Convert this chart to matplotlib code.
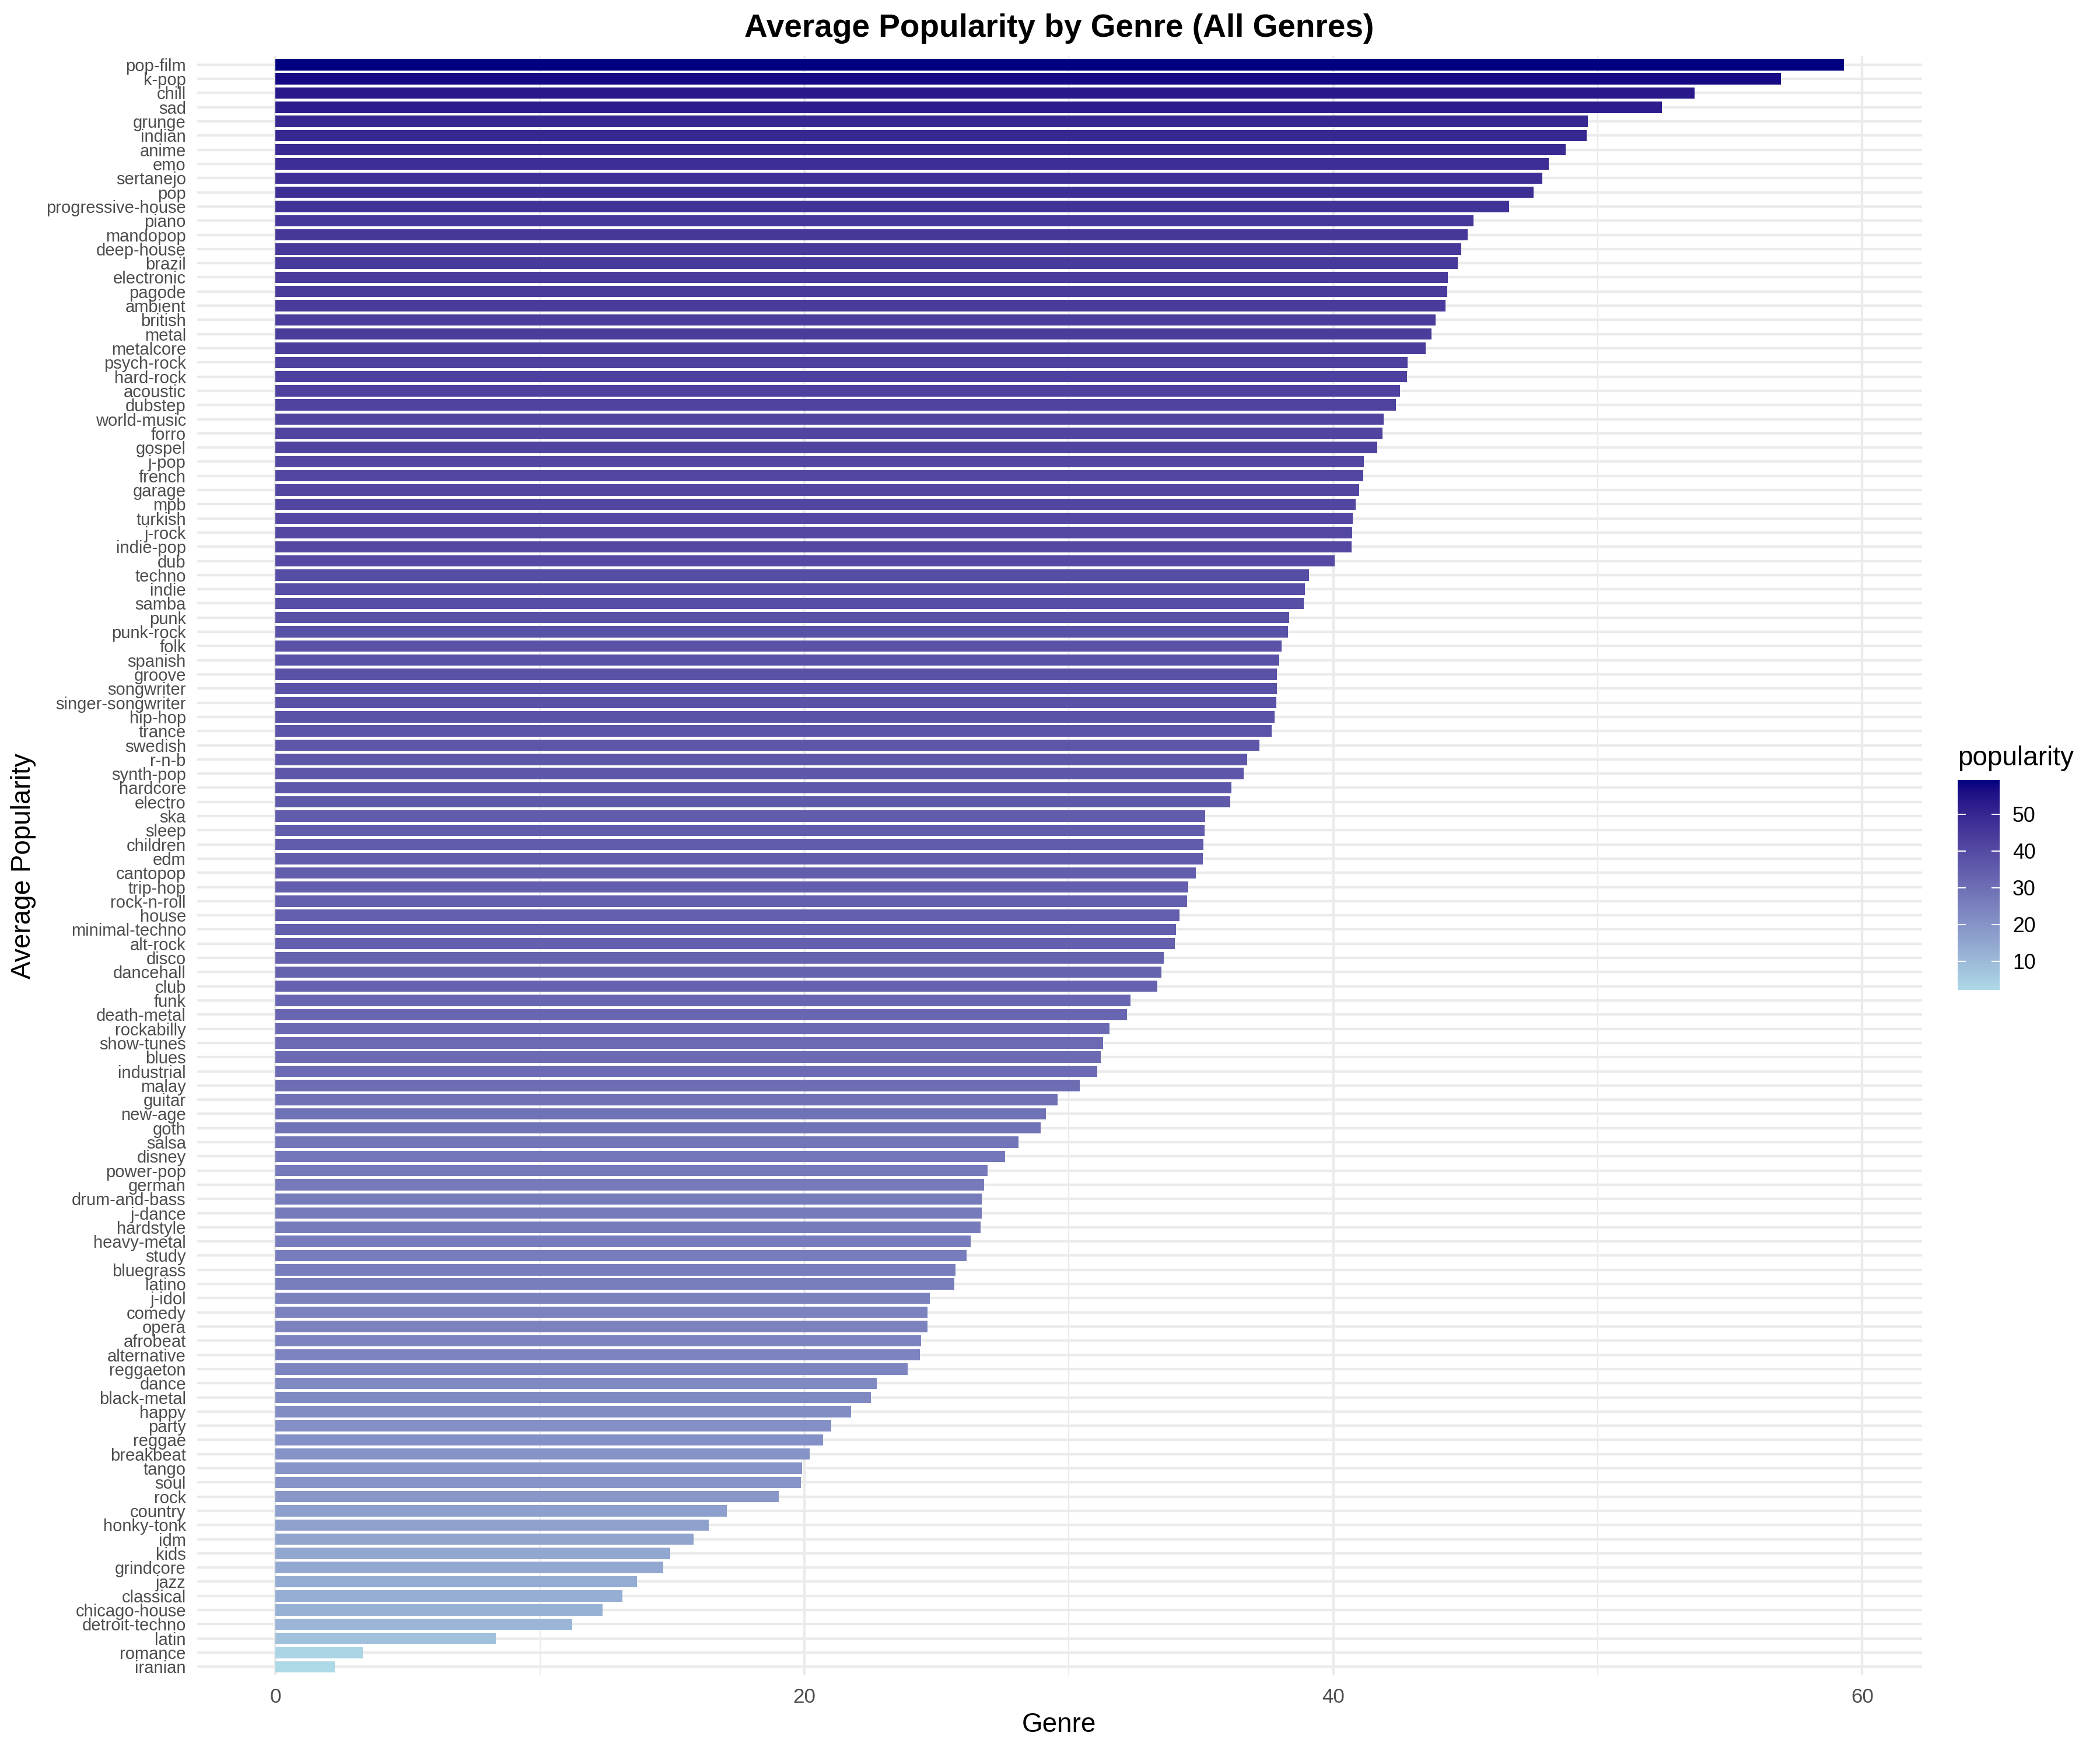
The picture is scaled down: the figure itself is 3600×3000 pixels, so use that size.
import numpy as np
import matplotlib
matplotlib.use("Agg")
import matplotlib.pyplot as plt
from matplotlib.colors import ListedColormap, Normalize, to_rgb
from matplotlib.ticker import MultipleLocator

plt.rcParams['font.family'] = ['Liberation Sans', 'DejaVu Sans']

# genres, sorted by average popularity (top to bottom)
genres = [
    'pop-film', 'k-pop', 'chill', 'sad', 'grunge', 'indian', 'anime', 'emo',
    'sertanejo', 'pop', 'progressive-house', 'piano', 'mandopop', 'deep-house',
    'brazil', 'electronic', 'pagode', 'ambient', 'british', 'metal', 'metalcore',
    'psych-rock', 'hard-rock',
    'acoustic', 'dubstep', 'world-music', 'forro', 'gospel', 'j-pop', 'french',
    'garage', 'mpb', 'turkish', 'j-rock', 'indie-pop', 'dub', 'techno', 'indie',
    'samba', 'punk', 'punk-rock', 'folk', 'spanish', 'groove', 'songwriter',
    'singer-songwriter', 'hip-hop', 'trance', 'swedish', 'r-n-b', 'synth-pop',
    'hardcore', 'electro', 'ska', 'sleep', 'children', 'edm', 'cantopop',
    'trip-hop', 'rock-n-roll', 'house', 'minimal-techno', 'alt-rock', 'disco',
    'dancehall', 'club',
    'funk', 'death-metal', 'rockabilly', 'show-tunes', 'blues', 'industrial',
    'malay', 'guitar', 'new-age', 'goth', 'salsa', 'disney', 'power-pop',
    'german', 'drum-and-bass', 'j-dance', 'hardstyle', 'heavy-metal', 'study',
    'bluegrass', 'latino', 'j-idol', 'comedy',
    'opera', 'afrobeat', 'alternative', 'reggaeton', 'dance', 'black-metal',
    'happy', 'party', 'reggae', 'breakbeat', 'tango', 'soul', 'rock', 'country',
    'honky-tonk', 'idm', 'kids', 'grindcore', 'jazz', 'classical',
    'chicago-house', 'detroit-techno', 'latin', 'romance', 'iranian',
]

popularity = [
    59.30, 56.93, 53.67, 52.42, 49.63, 49.58, 48.79, 48.14,
    47.91, 47.58, 46.65, 45.30, 45.07, 44.84,
    44.70, 44.33, 44.31, 44.23, 43.86, 43.72, 43.49,
    42.80, 42.78,
    42.51, 42.37, 41.91, 41.86, 41.67, 41.16, 41.12,
    40.98, 40.84, 40.74, 40.71, 40.70, 40.05, 39.07, 38.93,
    38.88, 38.33, 38.28, 38.05, 37.95, 37.87, 37.86,
    37.85, 37.77, 37.67, 37.21, 36.74, 36.60,
    36.14, 36.09, 35.16, 35.12, 35.08, 35.07, 34.79,
    34.51, 34.47, 34.19, 34.05, 34.00, 33.58,
    33.49, 33.35,
    32.33, 32.19, 31.53, 31.30, 31.21, 31.07,
    30.42, 29.58, 29.12, 28.93, 28.09, 27.58, 26.93,
    26.79, 26.71, 26.70, 26.65, 26.28, 26.14,
    25.72, 25.67, 24.74, 24.66,
    24.65, 24.42, 24.37, 23.91, 22.74, 22.51,
    21.77, 21.02, 20.70, 20.19, 19.91, 19.86, 19.02, 17.07,
    16.37, 15.81, 14.93, 14.65, 13.67, 13.12,
    12.37, 11.21, 8.33, 3.30, 2.23,
]


# lightblue -> navy gradient, interpolated in CIELAB like ggplot
def srgb_to_lab(c):
    c = np.asarray(c, dtype=float)
    lin = np.where(c <= 0.04045, c / 12.92, ((c + 0.055) / 1.055) ** 2.4)
    m = np.array([[0.4124, 0.3576, 0.1805],
                  [0.2126, 0.7152, 0.0722],
                  [0.0193, 0.1192, 0.9505]])
    xyz = m @ lin / np.array([0.95047, 1.0, 1.08883])
    f = np.where(xyz > 0.008856, np.cbrt(xyz), 7.787 * xyz + 16 / 116)
    return np.array([116 * f[1] - 16, 500 * (f[0] - f[1]), 200 * (f[1] - f[2])])


def lab_to_srgb(lab):
    L, a, b = lab
    fy = (L + 16) / 116
    fx = fy + a / 500
    fz = fy - b / 200
    f = np.array([fx, fy, fz])
    xyz = np.where(f ** 3 > 0.008856, f ** 3, (f - 16 / 116) / 7.787)
    xyz = xyz * np.array([0.95047, 1.0, 1.08883])
    m = np.array([[3.2406, -1.5372, -0.4986],
                  [-0.9689, 1.8758, 0.0415],
                  [0.0557, -0.2040, 1.0570]])
    lin = m @ xyz
    c = np.where(lin <= 0.0031308, 12.92 * lin, 1.055 * np.clip(lin, 0, None) ** (1 / 2.4) - 0.055)
    return np.clip(c, 0, 1)


lo = srgb_to_lab(to_rgb('#ADD8E6'))
hi = srgb_to_lab(to_rgb('#000080'))
cmap = ListedColormap([lab_to_srgb(lo + (hi - lo) * t) for t in np.linspace(0, 1, 256)])
norm = Normalize(vmin=min(popularity), vmax=max(popularity))

fig = plt.figure(figsize=(12, 10), dpi=300)
ax = fig.add_axes([0.0939, 0.0427, 0.8214, 0.9252])

ax.barh(genres, popularity, height=0.8, color=cmap(norm(np.array(popularity))), zorder=2)
ax.set_ylim(len(genres) - 0.4, -0.6)
ax.set_xlim(-0.05 * max(popularity), 1.05 * max(popularity))

ax.xaxis.set_major_locator(MultipleLocator(20))
ax.xaxis.set_minor_locator(MultipleLocator(10))
ax.grid(axis='y', which='major', color='#EBEBEB', linewidth=1.05, zorder=0)
ax.grid(axis='x', which='major', color='#EBEBEB', linewidth=1.05, zorder=0)
ax.grid(axis='x', which='minor', color='#EBEBEB', linewidth=0.52, zorder=0)
ax.set_axisbelow(True)
for s in ax.spines.values():
    s.set_visible(False)
ax.tick_params(axis='both', which='both', length=0)
ax.tick_params(axis='y', labelsize=7, labelcolor='#4D4D4D', pad=4.6)
ax.tick_params(axis='x', labelsize=8.4, labelcolor='#4D4D4D', pad=5)

fig.text(0.5044, 1 - 63 / 3000, 'Average Popularity by Genre (All Genres)',
         fontsize=13.2, fontweight='bold', ha='center', va='baseline')
fig.text(0.5044, 1 - 2969 / 3000, 'Genre', fontsize=11, ha='center', va='baseline')
fig.text(40 / 3600, 0.5053, 'Average Popularity', fontsize=11, rotation=90,
         ha='center', va='center')

# colour legend
cax = fig.add_axes([3356 / 3600, 1 - 1697 / 3000, 72 / 3600, 360 / 3000])
sm = plt.cm.ScalarMappable(cmap=cmap, norm=norm)
cb = fig.colorbar(sm, cax=cax)
cb.outline.set_visible(False)
cb.set_ticks([10, 20, 30, 40, 50])
cax.tick_params(which='both', direction='in', left=True, right=True,
                color='white', length=3.4, width=0.5, labelsize=8.6, pad=5.3)
cax.minorticks_off()
fig.text(3356 / 3600, 1 - 1312 / 3000, 'popularity', fontsize=11, ha='left', va='baseline')

fig.savefig('out.png', dpi=300)
